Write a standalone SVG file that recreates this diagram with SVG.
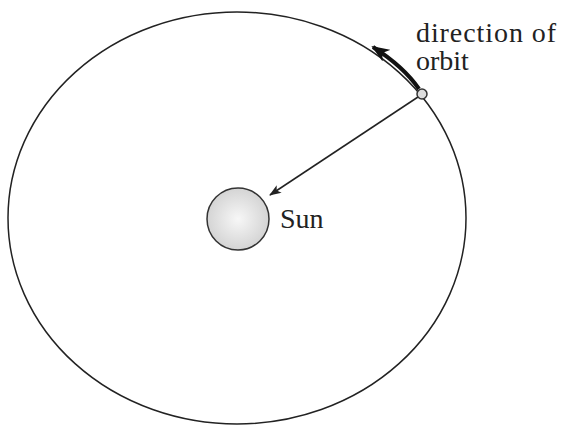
<svg xmlns="http://www.w3.org/2000/svg" width="563" height="432" viewBox="0 0 563 432">
<defs>
<radialGradient id="sunfill" cx="0.5" cy="0.5" r="0.5">
<stop offset="0" stop-color="#f7f7f7"/>
<stop offset="1" stop-color="#d4d4d4"/>
</radialGradient>
<marker id="ah" markerWidth="12" markerHeight="9" refX="11" refY="4.5" orient="auto" markerUnits="userSpaceOnUse" viewBox="0 0 12 9">
<path d="M0,0 L12,4.5 L0,9 L3,4.5 Z" fill="#222"/>
</marker>
<marker id="ah2" markerWidth="18" markerHeight="14" refX="16" refY="7" orient="auto" markerUnits="userSpaceOnUse" viewBox="0 0 18 14">
<path d="M0,0 L18,7 L0,14 L5,7 Z" fill="#111"/>
</marker>
</defs>
<style>
.t{font-family:"Liberation Serif","Times New Roman",serif;font-size:28px;fill:#222}
</style>
<rect width="563" height="432" fill="#fff"/>
<g id="orbit">
<ellipse cx="237" cy="218" rx="229" ry="206" fill="none" stroke="#222" stroke-width="1.5"/>
</g>
<g id="connectors">
<line x1="418" y1="97" x2="270" y2="195" stroke="#222" stroke-width="1.5" marker-end="url(#ah)"/>
<path d="M419,89 Q404,67 373,47" fill="none" stroke="#111" stroke-width="4" marker-end="url(#ah2)"/>
</g>
<g id="sun">
<circle cx="238" cy="219" r="31" fill="url(#sunfill)" stroke="#333" stroke-width="1.5"/>
<text class="t" x="280" y="228" font-size="27">Sun</text>
</g>
<g id="planet">
<circle cx="422" cy="94" r="5" fill="#ddd" stroke="#333" stroke-width="1.5"/>
</g>
<g id="label">
<text class="t" x="416" y="42" textLength="140" lengthAdjust="spacing">direction of</text>
<text class="t" x="416" y="70">orbit</text>
</g>
</svg>
